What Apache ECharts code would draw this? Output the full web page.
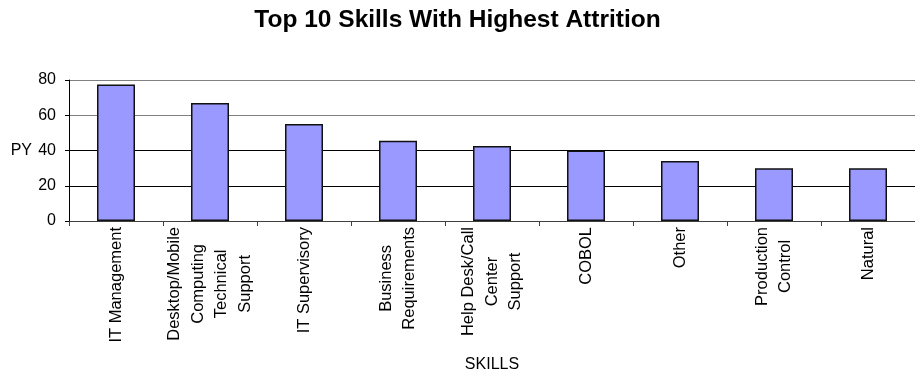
<!DOCTYPE html>
<html>
<head>
<meta charset="utf-8">
<script src="https://cdn.jsdelivr.net/npm/echarts@6/dist/echarts.min.js"></script>
<style>
  html, body { margin: 0; padding: 0; background: #fff; }
  #chart { width: 915px; height: 375px; }
</style>
</head>
<body>
<div id="chart"></div>
<script>
// Skill categories (line breaks follow the wrapped axis labels)
const skills = [
  'IT Management',
  'Desktop/Mobile\nComputing\nTechnical\nSupport',
  'IT Supervisory',
  'Business\nRequirements',
  'Help Desk/Call\nCenter\nSupport',
  'COBOL',
  'Other',
  'Production\nControl',
  'Natural'
];
// Attrition in person-years per skill
const attritionPY = [77.5, 67, 55, 45.5, 42.5, 40, 34, 30, 30];
// Value axis ticks
const yTicks = [0, 20, 40, 60, 80];

const FONT = '"Liberation Sans", Arial, sans-serif';

const chart = echarts.init(document.getElementById('chart'), null, { renderer: 'canvas' });

chart.setOption({
  animation: false,
  backgroundColor: '#ffffff',
  title: {
    text: 'Top 10 Skills With Highest Attrition',
    left: 'center',
    top: 3,
    textStyle: { fontFamily: FONT, fontSize: 24.5, fontWeight: 'bold', color: '#000' }
  },
  grid: { left: 69, right: 0, top: 80, bottom: 154, containLabel: false },
  xAxis: {
    type: 'category',
    data: skills,
    name: 'SKILLS',
    nameLocation: 'middle',
    nameGap: 136,
    nameTextStyle: { fontFamily: FONT, fontSize: 16, color: '#000' },
    axisLine: { show: true, lineStyle: { color: '#404040', width: 1 } },
    axisTick: { show: true, length: 5, alignWithLabel: false, lineStyle: { color: '#404040' } },
    axisLabel: {
      interval: 0,
      rotate: 90,
      margin: 6,
      fontFamily: FONT,
      fontSize: 16.5,
      color: '#000',
      formatter: function (v) {
        return v.split('\n').map(function (l) { return '{c|' + l + '}'; }).join('\n');
      },
      rich: {
        c: { align: 'center', fontFamily: FONT, fontSize: 16.5, lineHeight: 23.5, color: '#000' }
      }
    }
  },
  yAxis: {
    type: 'value',
    min: yTicks[0],
    max: yTicks[yTicks.length - 1],
    interval: yTicks[1] - yTicks[0],
    name: 'PY',
    nameLocation: 'middle',
    nameRotate: 0,
    nameGap: 37,
    nameTextStyle: { fontFamily: FONT, fontSize: 16, color: '#000', align: 'right', verticalAlign: 'middle' },
    axisLine: { show: true, lineStyle: { color: '#000', width: 1 } },
    axisTick: { show: true, length: 4, lineStyle: { color: '#000' } },
    axisLabel: { margin: 13, fontFamily: FONT, fontSize: 16, color: '#000' },
    splitLine: {
      show: true,
      lineStyle: { color: ['#000', '#000', '#000', '#808080', '#808080'], width: 1 }
    }
  },
  series: [{
    type: 'bar',
    data: attritionPY,
    barWidth: 38,
    itemStyle: { color: '#9999ff', borderColor: '#111', borderWidth: 1.5 }
  }]
});
</script>
</body>
</html>
